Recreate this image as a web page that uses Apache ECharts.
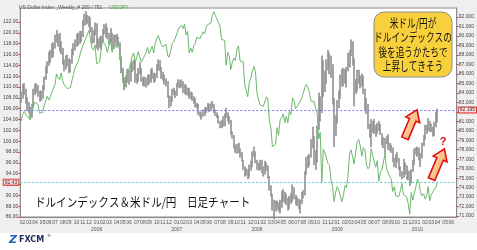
<!DOCTYPE html>
<html><head><meta charset="utf-8">
<script src="https://cdn.jsdelivr.net/npm/echarts@6/dist/echarts.min.js"></script>
<style>html,body{margin:0;padding:0;background:#fff}#c{width:477px;height:250px}</style>
</head><body><div id="c"></div>
<script>
// ---- data ----
const startDate = '2005-01-28';   // first weekly bar (Friday)
const weekCount = 283;            // axis runs to end of June 2010
const leftTicks = [86,88,90,92,94,96,98,100,102,104,106,108,110,112,114,116,118,120,122];
const rightTicks = [71,72,73,74,75,76,77,78,79,80,81,82,83,84,85,86,87,88,89,90,91,92];
const usdjpyLast = 92.43;
const dxyLast = 82.2;
const dxyLastLabel = '82.195';

// USD/JPY weekly closes (left axis)
const usdjpy = [
103.7,
104.9,105.5,105.0,104.6, 104.9,103.9,105.3,106.5, 107.2,107.5,106.8,105.2,104.9, 105.3,106.6,107.4,108.3,
107.6,108.2,109.0,109.1, 110.5,112.4,112.2,111.3,112.6, 111.1,110.4,110.1,109.7, 109.6,109.9,111.2,112.3,113.5,
113.6,114.7,115.8,116.0, 117.6,118.3,119.0,119.3, 120.4,120.4,117.2,116.8,117.8,
114.3,114.5,114.6,117.2, 118.7,118.0,117.5,116.4, 116.3,118.8,116.4,117.4,117.8, 117.2,117.9,116.8,113.8,
112.3,110.0,111.7,112.5, 112.7,114.2,115.7,116.3,114.5, 114.2,116.5,116.6,114.6, 114.5,115.7,116.3,117.3,
116.2,116.8,117.5,116.3,118.1, 118.9,119.5,118.6,117.8, 117.4,117.5,117.9,115.9, 115.5,116.6,118.0,118.4,119.0,
119.1,120.7,121.0,121.4, 120.8,121.6,119.6,120.3, 116.3,117.2,116.4,117.7,118.1, 119.2,119.1,118.9,119.5,
120.2,119.8,121.0,121.5, 121.6,121.8,123.2,123.9,123.2, 123.0,121.9,121.2,118.8, 118.8,118.6,114.0,116.4,115.8,
113.2,114.6,115.3,114.9, 117.0,117.6,114.8,114.6, 114.7,110.6,110.8,108.2,110.9, 111.6,113.0,113.8,112.8,
108.8,109.0,106.7,106.8, 106.4,107.2,108.2,107.8,103.8, 102.5,99.0,99.3,99.4, 102.5,101.1,103.9,104.4,
105.0,103.4,104.6,103.4,105.5, 104.9,108.0,107.5,106.0, 106.3,106.8,106.9,107.9, 108.0,109.9,110.5,109.9,108.9,
107.4,107.6,107.3,106.1, 105.2,100.4,101.6,92.5,98.5, 97.9,96.9,95.9,95.5, 92.9,91.6,88.8,90.6,
91.6,91.0,90.7,88.8,89.9, 91.8,91.4,93.5,97.6, 98.4,98.2,95.8,98.0, 99.9,100.3,99.1,97.2,
98.8,98.4,95.5,94.9,95.3, 98.6,98.4,96.2,95.2, 96.4,92.6,94.3,94.7,95.0, 97.6,94.9,94.6,93.5,
93.0,90.7,91.6,89.9, 89.8,89.8,90.9,92.2,90.1, 89.9,89.7,88.6,86.5, 90.5,89.1,90.4,91.5,
93.0,92.3,90.7,89.9,90.3, 89.3,89.9,91.6,89.0, 90.1,90.6,90.5,91.5, 92.43
];

// US Dollar Index weekly highs (right axis)
const dxyHigh = [
84.1,
84.9,85.0,84.4,83.5, 83.0,82.5,82.8,84.4, 84.9,85.0,84.8,84.2,84.2, 84.8,85.7,86.8,87.3,
88.3,88.5,89.2,89.3, 90.1,90.6,90.2,90.3,89.4, 88.7,87.5,87.9,88.0, 87.6,87.5,88.6,89.2,89.6,
90.2,90.3,90.5,90.5, 91.6,92.3,92.6,92.2, 92.1,91.9,90.9,90.6,91.4,
91.3,89.7,89.9,90.0, 90.7,91.2,91.3,90.9, 90.3,90.8,90.3,90.1,90.1, 90.2,89.9,89.3,87.8,
86.6,85.6,85.8,86.5, 86.4,87.0,87.3,87.5,87.3, 86.0,86.6,87.2,86.6, 85.6,85.7,85.6,85.9,
85.9,86.5,86.6,86.1,86.0, 87.0,87.5,87.4,86.7, 86.2,85.9,85.5,85.2, 83.7,83.6,84.4,84.5,84.2,
85.0,85.4,85.3,85.4, 85.2,84.9,84.8,84.5, 84.5,84.1,84.0,83.6,83.4, 82.9,82.8,82.0,81.9,
82.2,82.4,82.5,82.9, 82.8,82.9,83.1,82.8,82.2, 81.9,81.6,81.0,81.1, 81.5,81.8,82.4,81.9,81.5,
81.1,79.9,79.5,78.5, 78.6,78.7,78.1,77.7, 76.9,76.2,76.0,75.9,76.4, 76.8,77.8,78.3,77.8,
76.9,76.6,76.9,76.9, 76.2,76.8,76.6,76.3,75.2, 74.2,73.3,72.7,72.6, 72.6,72.4,72.7,73.6,
73.8,73.5,73.3,72.9,73.1, 73.4,74.3,74.0,73.2, 73.0,72.8,72.7,73.5, 73.7,75.7,77.2,77.4,77.5,
79.1,80.4,79.4,77.9, 80.5,84.0,83.6,87.9,87.4, 86.3,87.5,88.5,88.2, 87.9,87.0,83.4,81.6,
83.2,84.2,85.9,86.5,86.6, 86.5,86.7,88.2,88.5, 89.6,89.4,87.6,85.4, 86.4,86.4,85.8,86.0,
85.8,84.4,83.4,82.8,80.7, 81.2,81.0,81.2,80.6, 80.8,81.0,80.7,79.7,79.3, 79.2,79.4,79.6,78.7,
78.5,78.2,77.1,77.5, 77.7,77.1,76.2,75.7,77.0, 76.6,76.3,75.8,75.7, 75.9,76.9,78.1,78.2,
78.3,78.2,77.6,78.7,79.5, 80.6,80.6,81.3,81.0, 80.7,80.4,80.9,82.0, 82.3
];

// US Dollar Index weekly lows (right axis)
const dxyLow = [
83.0,
83.4,83.8,82.9,82.1, 81.9,81.3,81.4,82.5, 83.8,84.0,83.6,83.1,83.2, 83.4,84.3,85.4,86.1,
86.9,87.2,87.7,87.8, 88.7,89.3,88.9,88.4,88.1, 87.0,86.3,86.5,86.8, 86.1,86.2,87.1,88.0,88.5,
88.9,89.0,89.2,89.4, 89.9,91.1,91.2,91.3, 91.0,90.4,89.2,89.3,90.1,
88.7,88.5,88.8,88.6, 89.5,90.2,89.9,89.7, 89.1,89.3,88.6,88.7,89.2, 89.0,89.0,87.5,86.1,
85.1,84.3,84.6,85.1, 84.9,85.2,86.2,86.4,85.1, 85.0,85.2,86.0,85.2, 84.8,84.7,84.6,84.8,
85.0,85.1,85.5,85.1,85.2, 85.6,86.4,86.3,85.5, 85.3,84.9,84.7,83.5, 82.4,82.6,83.1,83.8,83.5,
83.7,84.6,84.5,84.6, 84.0,83.9,83.8,83.7, 83.4,83.4,83.2,82.9,82.5, 82.4,81.7,81.5,81.2,
81.5,81.6,81.9,82.1, 82.0,82.1,82.4,81.9,81.6, 81.4,80.8,80.3,80.3, 80.5,80.5,81.4,81.0,80.7,
79.6,79.2,78.2,77.7, 77.6,77.7,77.2,76.8, 75.9,75.2,75.3,74.9,75.1, 75.8,76.2,77.3,76.6,
75.9,75.8,75.9,75.6, 75.2,75.4,75.8,75.0,73.7, 73.1,71.6,70.7,71.5, 71.7,71.5,71.3,71.9,
72.5,72.4,72.2,71.6,71.8, 72.3,72.5,72.8,72.2, 72.1,71.8,71.3,72.3, 72.9,73.2,75.4,76.1,76.3,
77.2,78.2,76.4,75.9, 76.7,80.1,81.0,81.9,83.6, 84.1,85.0,86.4,86.0, 85.6,82.8,78.3,79.5,
80.8,82.4,83.4,84.7,84.7, 85.0,84.6,86.3,86.7, 87.9,86.9,82.6,83.9, 84.2,85.0,84.5,84.7,
83.9,82.2,81.8,80.2,79.3, 78.3,79.8,79.7,79.4, 79.7,80.0,79.6,78.5,78.2, 77.5,78.6,78.0,77.9,
77.7,76.7,76.2,76.1, 76.7,75.9,75.2,74.9,75.1, 75.4,74.9,74.8,74.2, 74.5,75.7,76.4,77.5,
77.3,76.9,76.2,77.1,78.4, 79.1,79.7,80.0,79.9, 79.9,79.4,79.5,80.4, 80.9
];

// ---- build ----
const cats = [];
{
  const t0 = Date.parse(startDate + 'T00:00:00Z');
  for (let i = 0; i < weekCount; i++) cats.push(new Date(t0 + i * 7 * 86400000).toISOString().slice(0, 10));
}
const isMonthStart = (i, v) => parseInt(v.slice(8, 10), 10) <= 7;
const isYearStart = (i, v) => v.slice(5, 7) === '01' && parseInt(v.slice(8, 10), 10) <= 7;
const dxyData = dxyHigh.map((h, i) => [dxyLow[i], h, dxyLow[i], h]);

const jp = '"Noto Sans CJK JP", sans-serif';
const axFont = 'Liberation Sans, Arial, sans-serif';

function arrow(cx, cy, len, rot) {
  const h = len / 2;
  return {
    type: 'polygon', x: cx, y: cy, rotation: rot, z: 120,
    shape: { points: [[0, -h], [7.5, -h + 11], [3.5, -h + 11], [3.5, h], [-3.5, h], [-3.5, -h + 11], [-7.5, -h + 11]] },
    style: {
      fill: { type: 'linear', x: 0, y: 0, x2: 1, y2: 0, colorStops: [{ offset: 0, color: '#ffe3c0' }, { offset: 1, color: '#f6a45e' }] },
      stroke: '#e01010', lineWidth: 1.6
    }
  };
}

const chart = echarts.init(document.getElementById('c'));
chart.setOption({
  animation: false,
  backgroundColor: '#efefef',
  grid: { left: 18, right: 20, top: 8, bottom: 33, show: true, backgroundColor: '#ffffff', borderColor: '#8a8a8a', borderWidth: 1 },
  xAxis: [
    {
      type: 'category', data: cats, boundaryGap: true,
      axisLine: { lineStyle: { color: '#8a8a8a' } },
      axisTick: { interval: isMonthStart, alignWithLabel: true, length: 2, lineStyle: { color: '#8a8a8a' } },
      axisLabel: { interval: isMonthStart, formatter: v => v.slice(5, 7), fontSize: 5, color: '#555', margin: 3, fontFamily: axFont },
      splitLine: { show: false }
    },
    {
      type: 'category', data: cats, boundaryGap: true, position: 'bottom', offset: 7,
      axisLine: { show: false }, axisTick: { show: false },
      axisLabel: { interval: isYearStart, formatter: v => v.slice(0, 4), fontSize: 5, color: '#555', margin: 3, fontFamily: axFont },
      splitLine: { show: false }
    }
  ],
  yAxis: [
    {
      type: 'value', position: 'left', min: 86, max: 124.58, scale: true,
      axisLine: { show: true, lineStyle: { color: '#8a8a8a' } },
      axisTick: { show: true, customValues: leftTicks, length: 2, lineStyle: { color: '#e03030' } },
      axisLabel: { customValues: leftTicks, formatter: v => v.toFixed(2), fontSize: 5, color: '#444', margin: 2, fontFamily: axFont },
      splitLine: { show: false }
    },
    {
      type: 'value', position: 'right', min: 70.9, max: 92.95, scale: true,
      axisLine: { show: true, lineStyle: { color: '#8a8a8a' } },
      axisTick: { show: true, customValues: rightTicks, length: 2, lineStyle: { color: '#e03030' } },
      axisLabel: { customValues: rightTicks, formatter: v => v.toFixed(3), fontSize: 5, color: '#444', margin: 2, fontFamily: axFont },
      splitLine: { show: false }
    }
  ],
  series: [
    {
      type: 'line', name: 'USDJPY', xAxisIndex: 0, yAxisIndex: 0, data: usdjpy, symbol: 'none', z: 3,
      lineStyle: { color: '#6cb86c', width: 1 },
      markLine: {
        silent: true, symbol: 'none',
        lineStyle: { color: '#55c8c8', type: [2, 2], width: 1 },
        label: { position: 'start', distance: 2, formatter: usdjpyLast.toFixed(2), fontSize: 5, color: '#333', backgroundColor: '#ffdede', borderColor: '#e03030', borderWidth: 1, padding: [0, 1], fontFamily: axFont },
        data: [{ yAxis: usdjpyLast }]
      }
    },
    {
      type: 'candlestick', name: 'US Dollar Index', xAxisIndex: 0, yAxisIndex: 1, data: dxyData, barWidth: 1.5, z: 2,
      itemStyle: { color: '#c4c4c4', color0: '#c4c4c4', borderColor: '#7c7c7c', borderColor0: '#7c7c7c', borderWidth: 0.6 },
      markLine: {
        silent: true, symbol: 'none',
        lineStyle: { color: '#7a7aff', type: [2, 2], width: 1 },
        label: { position: 'end', distance: 2, formatter: dxyLastLabel, fontSize: 5, color: '#333', backgroundColor: '#ffdede', borderColor: '#e03030', borderWidth: 1, padding: [0, 1], fontFamily: axFont },
        data: [{ yAxis: dxyLast }]
      }
    }
  ],
  graphic: [
    { type: 'rect', z: 1, shape: { x: 0, y: 233, width: 477, height: 17 }, style: { fill: '#ffffff' } },
    {
      type: 'text', x: 19, y: 2, z: 100,
      style: {
        text: '{a|US Dollar Index _Weekly_# 269 / 781}  {b|USDJPY}',
        rich: { a: { fill: '#555', fontSize: 5, fontFamily: axFont }, b: { fill: '#3fa33f', fontSize: 5, fontFamily: axFont } }
      }
    },
    { type: 'rect', z: 110, shape: { x: 374, y: 12, width: 78, height: 65, r: 10 }, style: { fill: '#f7d03c', stroke: '#8c8c8c', lineWidth: 1 } },
    {
      type: 'text', x: 413, y: 45, scaleX: 0.72, z: 115,
      style: { text: '米ドル/円が\nドルインデックスの\n後を追うかたちで\n上昇してきそう', x: 0, y: 0, align: 'center', verticalAlign: 'middle', textAlign: 'center', textVerticalAlign: 'middle', fontSize: 12, lineHeight: 14.5, fill: '#111', fontFamily: jp }
    },
    {
      type: 'text', x: 35, y: 202, scaleX: 0.88, z: 115,
      style: { text: 'ドルインデックス＆米ドル/円　日足チャート', x: 0, y: 0, align: 'left', verticalAlign: 'middle', textAlign: 'left', textVerticalAlign: 'middle', fontSize: 12, fill: '#111', fontFamily: jp }
    },
    arrow(411, 124, 31, -0.4),
    arrow(438, 164, 33, -0.4),
    { type: 'text', x: 443, y: 142, z: 120, style: { text: '?', x: 0, y: 0, align: 'center', verticalAlign: 'middle', fontSize: 11, fontWeight: 'bold', fill: '#e01010', fontFamily: axFont } },
    { type: 'text', x: 9, y: 240, z: 120, style: { text: 'Z', x: 0, y: 0, verticalAlign: 'middle', fontSize: 11, fontWeight: 'bold', fontStyle: 'italic', fill: '#1f5fbf', fontFamily: 'DejaVu Sans' } },
    { type: 'text', x: 19, y: 240, z: 120, style: { text: 'FXCM', x: 0, y: 0, verticalAlign: 'middle', fontSize: 8, fontWeight: 'bold', fill: '#1c2a5a', fontFamily: 'DejaVu Sans' } },
    { type: 'text', x: 47, y: 236, z: 120, style: { text: '®', x: 0, y: 0, verticalAlign: 'middle', fontSize: 4, fill: '#1c2a5a', fontFamily: 'DejaVu Sans' } }
  ]
});
</script></body></html>
